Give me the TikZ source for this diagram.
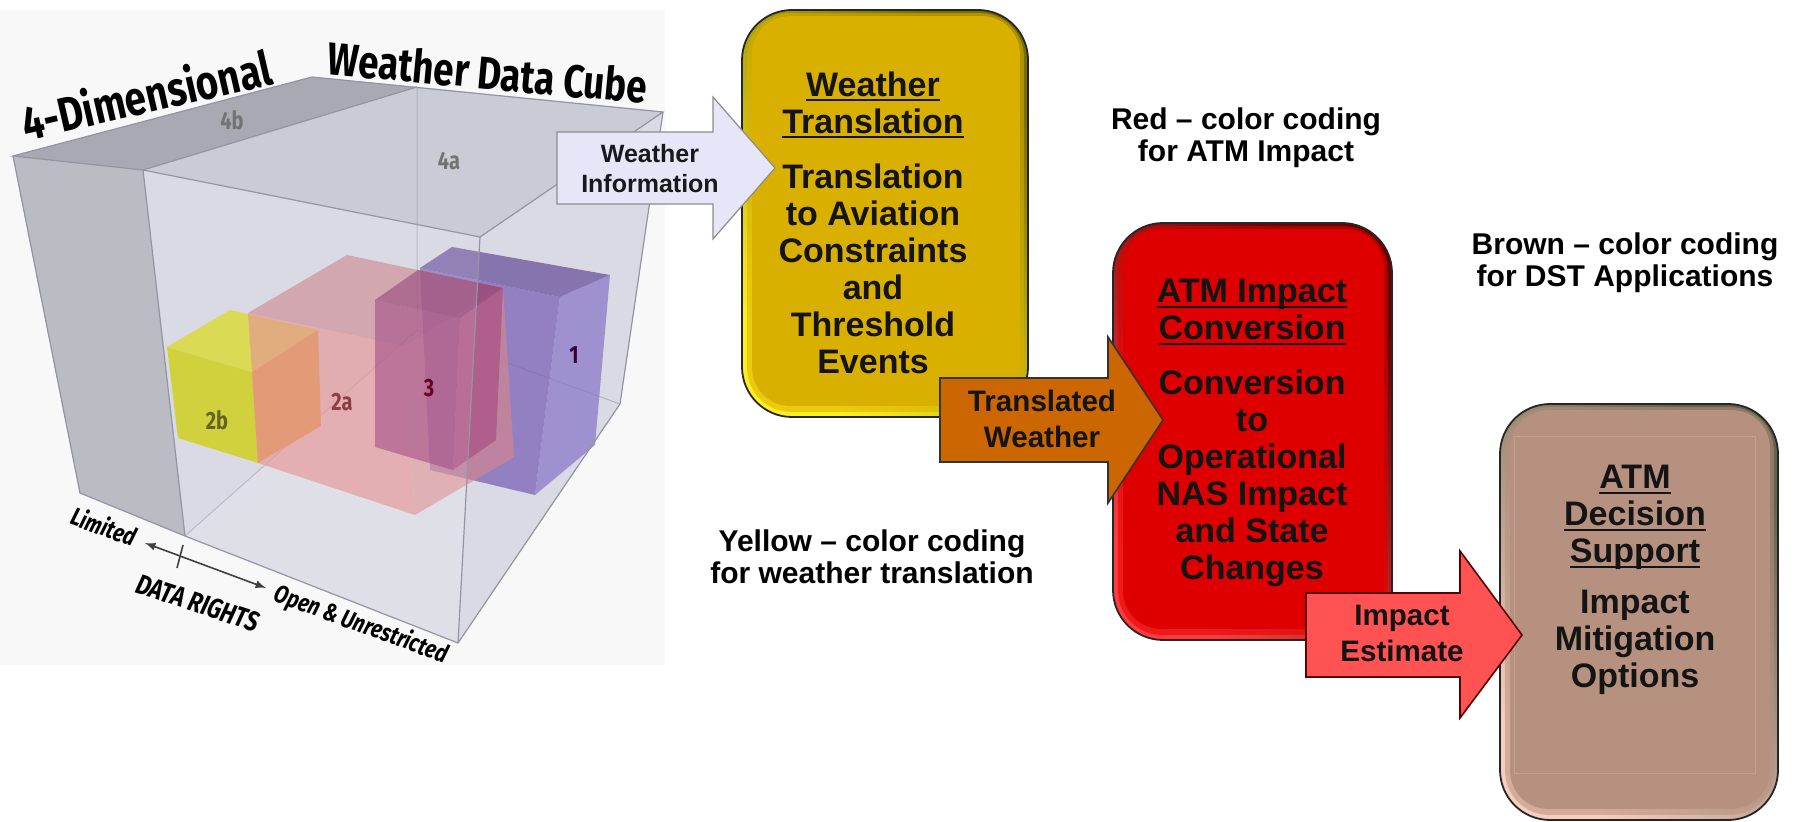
\documentclass[tikz,border=0pt]{standalone}
\usepackage{fontspec}
\setmainfont{Liberation Sans}
\newfontfamily\cubefont[FakeStretch=0.8]{Fira Sans}
\usetikzlibrary{calc}

% flow box colours
\definecolor{ymain}{HTML}{DAB000}
\definecolor{ydark}{HTML}{7A6E00}
\definecolor{ybright}{HTML}{FFEE20}
\definecolor{rmain}{HTML}{DE0000}
\definecolor{rdark}{HTML}{6A0000}
\definecolor{rbright}{HTML}{FF3A3A}
\definecolor{bmain}{HTML}{B6917F}
\definecolor{bdark}{HTML}{66624C}
\definecolor{bbright}{HTML}{F8CDBE}
% arrow colours
\definecolor{wifill}{HTML}{E6E6F8}
\definecolor{twfill}{HTML}{CC6600}
\definecolor{iefill}{HTML}{FF5252}
% cube colours
\definecolor{cubebg}{HTML}{F8F8F9}
\definecolor{cubeedge}{HTML}{9494A4}
\definecolor{cubein}{HTML}{D6D6E1}
\definecolor{slabtop}{HTML}{A9A9B3}
\definecolor{slabfront}{HTML}{BBBBC3}
\definecolor{cubetop}{HTML}{CBCBD6}
\definecolor{cubefloor}{HTML}{DCDCE6}
\definecolor{cuberight}{HTML}{DADAE5}
% regions inside the cube
\definecolor{oneF}{HTML}{7A62B8}
\definecolor{oneT}{HTML}{6A529E}
\definecolor{oneR}{HTML}{8C78C8}
\definecolor{twoaF}{HTML}{E48A8A}
\definecolor{twoaT}{HTML}{C87A80}
\definecolor{twoaR}{HTML}{DC8888}
\definecolor{threeF}{HTML}{9A3C7C}
\definecolor{threeT}{HTML}{8A3470}
\definecolor{threeR}{HTML}{A8467E}
\definecolor{twobF}{HTML}{CCCC14}
\definecolor{twobT}{HTML}{D6D630}
\definecolor{twobR}{HTML}{DC9418}

\newsavebox\ulbox
\newcommand{\ulin}[1]{\sbox\ulbox{#1}\rlap{\rule[-0.16em]{\wd\ulbox}{0.08em}}\usebox\ulbox}

\begin{document}
\begin{tikzpicture}[x=0.5pt,y=-0.5pt,
  edge/.style={draw=cubeedge, line width=0.6pt},
  faint/.style={draw=cubeedge!70, line width=0.5pt},
  flowbox/.style={rounded corners=25pt, draw=black!85, line width=0.9pt, inner sep=0pt},
  flowtxt/.style={align=center, inner sep=0pt, text=black!92, font=\fontsize{17}{18.5}\selectfont\bfseries},
  arrtxt/.style={align=center, inner sep=0pt, text=black!92, font=\fontsize{14.8}{18}\selectfont\bfseries},
  legend/.style={align=center, inner sep=0pt, font=\fontsize{15}{16}\selectfont\bfseries},
  cubelbl/.style={inner sep=0pt, font=\cubefont\bfseries\fontsize{12.5}{13}\selectfont},
  cubetitle/.style={inner sep=0pt, font=\cubefont\bfseries\fontsize{23}{25}\selectfont},
  axislbl/.style={inner sep=0pt, font=\cubefont\bfseries\itshape\fontsize{12.5}{14}\selectfont},
]
\useasboundingbox (0,0) rectangle (1797,822);

% ---------------- data cube ----------------
\fill[cubebg] (0,10) rectangle (665,665);

\coordinate (A) at (13,156);   \coordinate (B) at (312,77);
\coordinate (C) at (663,112);  \coordinate (D) at (480,237);
\coordinate (E) at (143,170);  \coordinate (F) at (417,87);
\coordinate (Ab) at (80,493);  \coordinate (Eb) at (185,536);
\coordinate (Db) at (458,643); \coordinate (Cb) at (620,404);
\coordinate (Fb) at (417,330);

\fill[cubein] (A) -- (B) -- (C) -- (Cb) -- (Db) -- (Eb) -- (Ab) -- cycle;
\fill[cubefloor] (Eb) -- (Fb) -- (Cb) -- (Db) -- cycle;
\fill[cuberight] (D) -- (C) -- (Cb) -- (Db) -- cycle;
\fill[cubetop] (E) -- (F) -- (C) -- (D) -- cycle;
\fill[slabfront] (A) -- (E) -- (Eb) -- (Ab) -- cycle;
\fill[slabtop] (A) -- (B) -- (F) -- (E) -- cycle;
\draw[faint] (F) -- (Fb) -- (Cb) (Eb) -- (Fb);

% region 1
\fill[oneF, opacity=0.75] (420,268) -- (560,297) -- (535,495) -- (430,470) -- cycle;
\fill[oneT, opacity=0.75] (420,268) -- (452,247) -- (610,275) -- (560,297) -- cycle;
\fill[oneR, opacity=0.75] (560,297) -- (610,275) -- (595,445) -- (535,495) -- cycle;
% region 2b
\fill[twobF, opacity=0.9] (167,347) -- (252,372) -- (258,463) -- (178,438) -- cycle;
\fill[twobT, opacity=0.9] (167,347) -- (230,310) -- (318,330) -- (252,372) -- cycle;
\fill[twobR, opacity=0.9] (252,372) -- (318,330) -- (321,426) -- (258,463) -- cycle;
% region 2a
\fill[twoaF, opacity=0.65] (248,313) -- (404,346) -- (415,515) -- (258,463) -- cycle;
\fill[twoaT, opacity=0.6] (248,313) -- (347,255) -- (503,288) -- (404,346) -- cycle;
\fill[twoaR, opacity=0.6] (404,346) -- (503,288) -- (514,457) -- (415,515) -- cycle;
% region 3
\fill[threeF, opacity=0.6] (375,300) -- (460,318) -- (453,470) -- (375,447) -- cycle;
\fill[threeT, opacity=0.6] (375,300) -- (418,270) -- (503,288) -- (460,318) -- cycle;
\fill[threeR, opacity=0.6] (460,318) -- (503,288) -- (496,440) -- (453,470) -- cycle;

% transparent front face and edges
\fill[white, opacity=0.10] (E) -- (D) -- (Db) -- (Eb) -- cycle;
\draw[edge] (A) -- (B) -- (C) -- (D) -- (E) -- cycle;
\draw[edge] (E) -- (F) (E) -- (Eb) (D) -- (Db) (C) -- (Cb) -- (Db) -- (Eb) -- (Ab) -- (A);

% cube labels
\node[cubelbl, text=black!55] (l4b) at (232,120) {4b};
\node[cubelbl, text=black!55] (l4a) at (449,161) {4a};
\node[cubelbl, text=violet!45!black] (l1) at (574,355) {1};
\node[cubelbl, text=purple!55!black] (l3) at (429,388) {3};
\node[cubelbl, text=red!40!black!75] (l2a) at (342,402) {2a};
\node[cubelbl, text=olive!65!black] (l2b) at (217,420) {2b};

\node[cubetitle, rotate=13, font=\cubefont\bfseries\fontsize{24}{26}\selectfont] (t4d) at (146,94) {4-Dimensional};
\node[cubetitle, rotate=-5.3] (twdc) at (488,72) {Weather Data Cube};

% data rights axis
\coordinate (lim) at (145,543);
\coordinate (opn) at (266,588);
\coordinate (tka) at (183,545);
\coordinate (tkb) at (177,568);
\draw[black!75, line width=0.8pt, <->, >=latex] (lim) -- (opn);
\draw[black!75, line width=0.8pt] (tka) -- (tkb);
\node[axislbl, rotate=-20] (limtxt) at (104,526) {Limited};
\node[axislbl, rotate=-18, font=\cubefont\bfseries\itshape\fontsize{14}{16}\selectfont] (drtxt) at (198,603) {DATA RIGHTS};
\node[axislbl, rotate=-20] (opntxt) at (361,625) {Open \& Unrestricted};

% ---------------- flow boxes ----------------
% weather translation
\node[flowbox, minimum width=143pt, minimum height=203.5pt,
      top color=ydark, bottom color=ybright, shading angle=-45] (ybox) at (885,213.5) {};
\fill[ymain, opacity=0.55, rounded corners=22pt] ($(ybox.north west)+(6,4)$) rectangle ($(ybox.south east)+(-5,-6)$);
\fill[ymain, rounded corners=19pt] ($(ybox.north west)+(11,7)$) rectangle ($(ybox.south east)+(-9,-12)$);
\node[flowtxt, anchor=north] (ytext) at (873,71)
  {\ulin{Weather}\\\ulin{Translation}\\[9pt]Translation\\to Aviation\\Constraints\\and\\Threshold\\Events};

% ATM impact conversion
\node[flowbox, minimum width=139.5pt, minimum height=208.5pt,
      top color=rdark, bottom color=rbright, shading angle=-45] (rbox) at (1252.5,431.5) {};
\fill[rmain, opacity=0.55, rounded corners=22pt] ($(rbox.north west)+(6,4)$) rectangle ($(rbox.south east)+(-5,-6)$);
\fill[rmain, rounded corners=19pt] ($(rbox.north west)+(11,7)$) rectangle ($(rbox.south east)+(-9,-12)$);
\node[flowtxt, anchor=north] (rtext) at (1252,279)
  {\ulin{ATM Impact}\\\ulin{Conversion}\\[9pt]Conversion\\to\\Operational\\NAS Impact\\and State\\Changes};

% ATM decision support
\node[flowbox, minimum width=139pt, minimum height=208pt,
      top color=bdark, bottom color=bbright, shading angle=-45] (bbox) at (1639,612) {};
\fill[bmain, opacity=0.55, rounded corners=22pt] ($(bbox.north west)+(6,4)$) rectangle ($(bbox.south east)+(-5,-6)$);
\fill[bmain, rounded corners=19pt] ($(bbox.north west)+(11,7)$) rectangle ($(bbox.south east)+(-9,-12)$);
\draw[bmain!85!white, line width=0.5pt] ($(bbox.north west)+(15,33)$) rectangle ($(bbox.south east)+(-23,-47)$);
\node[flowtxt, anchor=north] (btext) at (1635,465)
  {\ulin{ATM}\\\ulin{Decision}\\\ulin{Support}\\[7pt]Impact\\Mitigation\\Options};

% ---------------- block arrows ----------------
\filldraw[fill=wifill, draw=black!45, line width=0.6pt]
  (557,132) -- (713,132) -- (713,97) -- (775,168) -- (713,239) -- (713,204) -- (557,204) -- cycle;
\node[align=center, inner sep=0pt, text=black!90, font=\fontsize{12.5}{15}\selectfont\bfseries] (wi) at (650,169) {Weather\\Information};

\filldraw[fill=twfill, draw=black!80, line width=0.8pt]
  (940,378) -- (1108,378) -- (1108,337) -- (1163,420) -- (1108,503) -- (1108,462) -- (940,462) -- cycle;
\node[arrtxt] (tw) at (1042,419) {Translated\\Weather};

\filldraw[fill=iefill, draw=red!35!black, line width=0.8pt]
  (1306,593) -- (1460,593) -- (1460,551) -- (1522,635) -- (1460,718) -- (1460,677) -- (1306,677) -- cycle;
\node[arrtxt] (ie) at (1402,633) {Impact\\Estimate};

% ---------------- colour key ----------------
\node[legend, anchor=north] (redkey) at (1246,107) {Red – color coding\\for ATM Impact};
\node[legend, anchor=north] (brownkey) at (1625,232) {Brown – color coding\\for DST Applications};
\node[legend, anchor=north] (yellowkey) at (872,529) {Yellow – color coding\\for weather translation};
\end{tikzpicture}
\end{document}
